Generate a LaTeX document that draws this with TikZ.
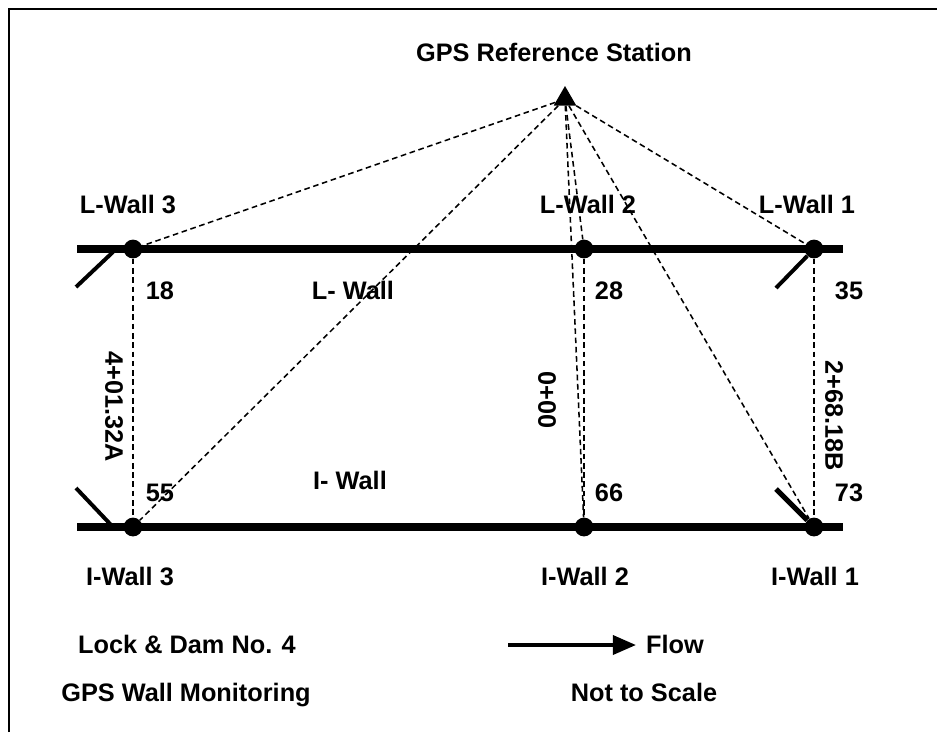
\documentclass[tikz,border=0pt]{standalone}
\usepackage{fontspec}
\setmainfont{Liberation Sans}
\usepackage{tikz}
\usetikzlibrary{arrows.meta,shapes.geometric}
\tikzset{
  lab/.style={font=\fontsize{18}{20}\selectfont\bfseries,inner sep=0pt,anchor=base},
  sidelab/.style={lab,rotate=-90,anchor=center},
  station/.style={circle,fill=black,inner sep=0pt,minimum size=0.47cm},
  sight/.style={line width=1.1pt,dash pattern=on 4pt off 2.6pt},
  rail/.style={line width=5.8pt},
  gate/.style={line width=2.8pt}
}
\begin{document}
\begin{tikzpicture}[x=0.025cm,y=-0.025cm]
\useasboundingbox (0,0) rectangle (937,732);
\draw[line width=1.8pt] (9,732)--(9,9)--(937,9);
% walls
\foreach \name/\yy in {lw/249,iw/527}{
  \coordinate (\name a) at (77,\yy);
  \coordinate (\name b) at (843,\yy);
  \draw[rail] (\name a)--(\name b);
}
\foreach \n/\x/\yy in {lw3/133/249,lw2/584/249,lw1/814/249,iw3/133/527,iw2/584/527,iw1/814/527}{
  \node[station] (\n) at (\x,\yy) {};
}
\node[regular polygon,regular polygon sides=3,fill=black,inner sep=0pt,minimum size=0.65cm] (ref) at (565,99) {};
% gates
\coordinate (g3) at (76,287);
\coordinate (g3end) at (113,252);
\coordinate (g1) at (776,288);
\coordinate (h3) at (76,488);
\coordinate (h3end) at (113,527);
\coordinate (h1) at (776,489);
\draw[gate] (g3)--(g3end);
\draw[gate] (g1)--(lw1);
\draw[gate] (h3)--(h3end);
\draw[gate,line width=3.6pt] (h1)--(iw1);
% sight lines
\foreach \n in {lw3,lw2,lw1,iw3,iw2,iw1}{\draw[sight] (ref)--(\n);}
\foreach \n in {3,2,1}{\draw[sight] (lw\n)--(iw\n);}
% labels
\node[lab] (reflab) at (554,61) {GPS Reference Station};
\node[lab] (lw3lab) at (128,213) {L-Wall 3};
\node[lab] (lw2lab) at (588,213) {L-Wall 2};
\node[lab] (lw1lab) at (807,213) {L-Wall 1};
\node[lab] (iw3lab) at (130,585) {I-Wall 3};
\node[lab] (iw2lab) at (585,585) {I-Wall 2};
\node[lab] (iw1lab) at (815,585) {I-Wall 1};
\foreach \n/\x/\yy/\lab in {a/160/299/18,b/609/299/28,c/849/299/35,d/160/501/55,e/609/501/66,f/849/501/73,g/353/299/L- Wall,h/350/489/I- Wall}{
  \node[lab] (num\n) at (\x,\yy) {\lab};
}
\node[sidelab] (sta3) at (114,407) {4+01.32A};
\node[sidelab] (sta2) at (547,400) {0+00};
\node[sidelab] (sta1) at (834,416) {2+68.18B};
\node[lab] (lock) at (187,653) {Lock \& Dam No. 4};
\node[lab] (mon) at (186,701) {GPS Wall Monitoring};
\node[lab] (flow) at (675,653) {Flow};
\node[lab] (scale) at (644,701) {Not to Scale};
\coordinate (flowtail) at (508,645);
\coordinate (flowhead) at (636,645);
\draw[-{Triangle[length=16.5pt,width=13.5pt]},line width=2.8pt] (flowtail)--(flowhead);
\end{tikzpicture}
\end{document}
